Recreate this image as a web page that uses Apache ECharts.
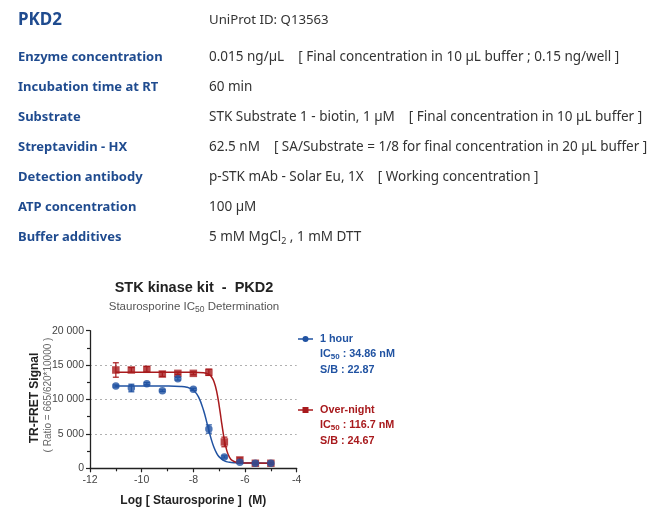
<!DOCTYPE html>
<html><head><meta charset="utf-8">
<script src="https://cdn.jsdelivr.net/npm/echarts@6/dist/echarts.min.js"></script>
<style>html,body{margin:0;padding:0;background:#fff}#c{width:670px;height:520px}</style>
</head><body><div id="c"></div>
<script>
// ---- data ----
const infoLabels = ['Enzyme concentration','Incubation time at RT','Substrate','Streptavidin - HX','Detection antibody','ATP concentration','Buffer additives'];
const infoValues = [
  '0.015 ng/µL    [ Final concentration in 10 µL buffer ; 0.15 ng/well ]',
  '60 min',
  'STK Substrate 1 - biotin, 1 µM    [ Final concentration in 10 µL buffer ]',
  '62.5 nM    [ SA/Substrate = 1/8 for final concentration in 20 µL buffer ]',
  'p-STK mAb - Solar Eu, 1X    [ Working concentration ]',
  '100 µM',
  '5 mM MgCl{sub|2} , 1 mM DTT'
];
const logDose = [-11, -10.4, -9.8, -9.2, -8.6, -8, -7.4, -6.8, -6.2, -5.6, -5];
const hourMean = [11960, 11670, 12300, 11280, 13020, 11480, 5710, 1650, 870, 730, 730];
const hourErr  = [150, 550, 150, 120, 200, 150, 600, 150, 150, 100, 100];
const nightMean = [14290, 14290, 14390, 13700, 13800, 13800, 13950, 3830, 1210, 730, 730];
const nightErr  = [1050, 350, 400, 350, 150, 200, 450, 700, 300, 150, 150];
const hourCurveX = [-11, -10, -9, -8.5, -8.25, -8, -7.8, -7.6, -7.458, -7.3, -7.2, -7.1, -7.0, -6.8, -6.6, -6.4, -6, -5];
const hourCurveY = [11950, 11950, 11945, 11905, 11785, 11350, 10380, 8360, 6350, 4130, 3030, 2210, 1660, 1080, 870, 800, 760, 750];
const nightCurveX = [-11, -8, -7.6, -7.4, -7.3, -7.2, -7.1, -7.0, -6.933, -6.9, -6.8, -6.7, -6.6, -6.5, -6.3, -6, -5];
const nightCurveY = [13950, 13950, 13890, 13650, 13300, 12580, 11230, 9090, 7350, 6480, 4120, 2500, 1600, 1140, 830, 760, 750];
const yTicks = [0, 5000, 10000, 15000, 20000];
const xTicks = [-12, -10, -8, -6, -4];
const legendItems = [
  {name: '1 hour', ic50: '34.86 nM', sb: '22.87'},
  {name: 'Over-night', ic50: '116.7 nM', sb: '24.67'}
];

// ---- styles ----
const BLUE = '#2153a2', RED = '#a81a1d', HEAD = '#1f4b8f', TXT = '#333';
const FF = '"Noto Sans", sans-serif', AF = 'Liberation Sans, Arial, sans-serif';

const graphics = [];
graphics.push({type:'text', x:18, y:20, style:{text:'PKD2', font:'bold 17px '+FF, fill:HEAD, verticalAlign:'middle'}});
graphics.push({type:'text', x:209, y:20, style:{text:'UniProt ID: Q13563', font:'13.2px '+FF, fill:TXT, verticalAlign:'middle'}});
infoLabels.forEach((l,i)=>{
  const yc = 57.5 + i*30;
  graphics.push({type:'text', x:18, y:yc, style:{text:l, font:'bold 13px '+FF, fill:HEAD, verticalAlign:'middle'}});
  graphics.push({type:'text', x:209, y:yc, style:{text:infoValues[i], font:'13.5px '+FF, fill:TXT, verticalAlign:'middle',
    rich:{sub:{fontSize:9, fontFamily:FF, fill:TXT, padding:[7,0,0,0]}}}});
});
// chart title
graphics.push({type:'text', x:194, y:288, style:{text:'STK kinase kit  -  PKD2', font:'bold 14.5px '+AF, fill:'#222', align:'center', verticalAlign:'middle'}});
graphics.push({type:'text', x:194, y:307, style:{text:'Staurosporine IC{s|50} Determination', font:'11.5px '+AF, fill:'#555', align:'center', verticalAlign:'middle',
  rich:{s:{fontSize:8.5, fontFamily:AF, fill:'#555', padding:[5,0,0,0]}}}});
// axis names
graphics.push({type:'text', x:35, y:398, rotation:Math.PI/2, style:{text:'TR-FRET Signal', font:'bold 12px '+AF, fill:'#222', align:'center', verticalAlign:'middle'}});
graphics.push({type:'text', x:48, y:395, rotation:Math.PI/2, style:{text:'( Ratio = 665/620*10000 )', font:'10px '+AF, fill:'#666', align:'center', verticalAlign:'middle'}});
// legend
const legColors = [BLUE, RED];
legendItems.forEach((it,i)=>{
  const y0 = 339 + i*71;
  const c = legColors[i];
  graphics.push({type:'line', shape:{x1:298, y1:y0, x2:313, y2:y0}, style:{stroke:c, lineWidth:1.5}});
  if (i===0) graphics.push({type:'circle', shape:{cx:305.5, cy:y0, r:3}, style:{fill:c}});
  else graphics.push({type:'rect', shape:{x:302.5, y:y0-3, width:6, height:6}, style:{fill:c}});
  graphics.push({type:'text', x:320, y:y0, style:{text:it.name, font:'bold 10.8px '+AF, fill:c, verticalAlign:'middle'}});
  graphics.push({type:'text', x:320, y:y0+15.5, style:{text:'IC{s|50} : '+it.ic50, font:'bold 10.8px '+AF, fill:c, verticalAlign:'middle',
    rich:{s:{fontSize:8, fontFamily:AF, fontWeight:'bold', fill:c, padding:[4,0,0,0]}}}});
  graphics.push({type:'text', x:320, y:y0+31, style:{text:'S/B : '+it.sb, font:'bold 10.8px '+AF, fill:c, verticalAlign:'middle'}});
});

function errSeries(name, mean, err, color){
  return {
    type:'custom', name:name, z:4,
    data: logDose.map((x,i)=>[x, mean[i]-err[i], mean[i]+err[i]]),
    renderItem:(params, api)=>{
      const x = api.value(0);
      const lo = api.coord([x, api.value(1)]);
      const hi = api.coord([x, api.value(2)]);
      const w = 3;
      return {type:'group', children:[
        {type:'line', shape:{x1:lo[0], y1:lo[1], x2:hi[0], y2:hi[1]}, style:{stroke:color, lineWidth:1.2}},
        {type:'line', shape:{x1:lo[0]-w, y1:lo[1], x2:lo[0]+w, y2:lo[1]}, style:{stroke:color, lineWidth:1.2}},
        {type:'line', shape:{x1:hi[0]-w, y1:hi[1], x2:hi[0]+w, y2:hi[1]}, style:{stroke:color, lineWidth:1.2}}
      ]};
    }
  };
}

const chart = echarts.init(document.getElementById('c'), null, {renderer:'canvas'});
chart.setOption({
  animation:false,
  grid:{left:90, top:330.7, width:206.7, height:137.6, containLabel:false},
  xAxis:{
    type:'value', min:-12, max:-4, interval:2,
    axisLine:{onZero:false, lineStyle:{color:'#222', width:1.3}},
    axisTick:{length:4, lineStyle:{color:'#222', width:1.2}},
    minorTick:{show:true, splitNumber:2, length:3, lineStyle:{color:'#222', width:1.2}},
    splitLine:{show:false},
    axisLabel:{fontFamily:AF, fontSize:10.5, color:'#444', margin:6, formatter:v=>xTicks.includes(v)?String(v):''},
    name:'Log [ Staurosporine ]  (M)', nameLocation:'middle', nameGap:26,
    nameTextStyle:{fontFamily:AF, fontWeight:'bold', fontSize:12, color:'#222'}
  },
  yAxis:{
    type:'value', min:0, max:20000, interval:5000,
    axisLine:{show:true, onZero:false, lineStyle:{color:'#222', width:1.3}},
    axisTick:{show:true, length:4, lineStyle:{color:'#222', width:1.2}},
    minorTick:{show:true, splitNumber:2, length:3, lineStyle:{color:'#222', width:1.2}},
    splitLine:{show:true, showMinLine:false, showMaxLine:false, lineStyle:{color:'#b0b0b0', type:[2,3], width:1}},
    axisLabel:{fontFamily:AF, fontSize:10.5, color:'#444', margin:6,
      formatter:v=>yTicks.includes(v)?(v>=1000?Math.floor(v/1000)+' '+String(v%1000).padStart(3,'0'):String(v)):''}
  },
  series:[
    {type:'line', name:'1 hour fit', data:hourCurveX.map((x,i)=>[x,hourCurveY[i]]), smooth:0.4, showSymbol:false, symbol:'none',
     lineStyle:{color:BLUE, width:1.5}, z:2},
    {type:'line', name:'Over-night fit', data:nightCurveX.map((x,i)=>[x,nightCurveY[i]]), smooth:0.4, showSymbol:false, symbol:'none',
     lineStyle:{color:RED, width:1.5}, z:2},
    errSeries('1 hour err', hourMean, hourErr, BLUE),
    errSeries('Over-night err', nightMean, nightErr, RED),
    {type:'scatter', name:'Over-night', data:logDose.map((x,i)=>[x,nightMean[i]]), symbol:'rect', symbolSize:7.5,
     itemStyle:{color:RED}, z:5},
    {type:'scatter', name:'1 hour', data:logDose.map((x,i)=>[x,hourMean[i]]), symbol:'circle', symbolSize:7.5,
     itemStyle:{color:BLUE}, z:6}
  ],
  graphic: graphics
});
</script></body></html>
